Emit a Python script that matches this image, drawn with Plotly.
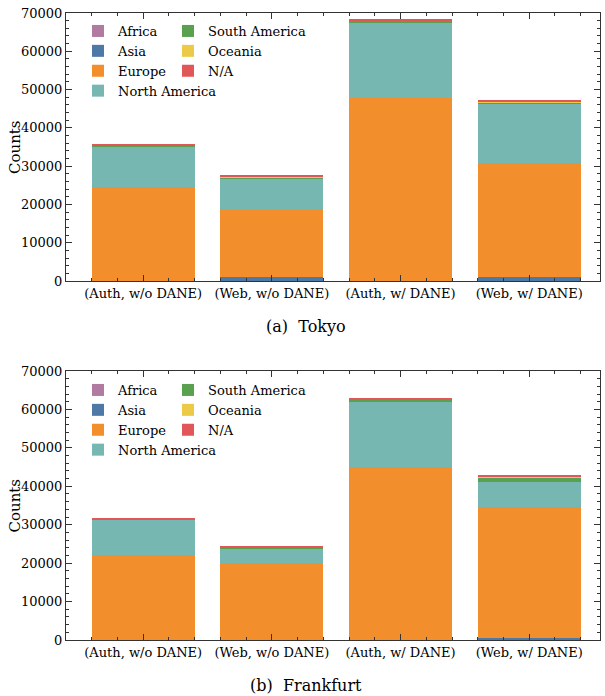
import plotly.graph_objects as go

# Regions stacked from the bottom up, and the four measurement configurations
regions = ["Africa", "Asia", "Europe", "North America", "South America", "Oceania", "N/A"]
colors = ["#b07aa1", "#4e79a7", "#f28e2b", "#76b7b2", "#59a14f", "#edc948", "#e15759"]
configs = ["(Auth, w/o DANE)", "(Web, w/o DANE)", "(Auth, w/ DANE)", "(Web, w/ DANE)"]

# Tokyo vantage point
tokyo_africa = [20, 40, 30, 60]
tokyo_asia = [60, 1100, 80, 1050]
tokyo_europe = [24350, 17700, 47800, 29650]
tokyo_north_america = [10650, 7850, 19650, 15400]
tokyo_south_america = [200, 450, 350, 550]
tokyo_oceania = [20, 50, 40, 200]
tokyo_na = [250, 330, 270, 250]

# Frankfurt vantage point
frankfurt_africa = [20, 20, 30, 40]
frankfurt_asia = [50, 60, 100, 400]
frankfurt_europe = [22050, 19950, 44950, 34050]
frankfurt_north_america = [9120, 3650, 16900, 6700]
frankfurt_south_america = [80, 440, 650, 1100]
frankfurt_oceania = [10, 30, 50, 250]
frankfurt_na = [220, 340, 200, 250]

tokyo = [tokyo_africa, tokyo_asia, tokyo_europe, tokyo_north_america,
         tokyo_south_america, tokyo_oceania, tokyo_na]
frankfurt = [frankfurt_africa, frankfurt_asia, frankfurt_europe, frankfurt_north_america,
             frankfurt_south_america, frankfurt_oceania, frankfurt_na]

FONT = "DejaVu Serif"
W, H = 605, 696
xpos = list(range(len(configs)))

fig = go.Figure()


def add_panel(series, xa, ya, legends):
    for i, (name, color, vals) in enumerate(zip(regions, colors, series)):
        fig.add_trace(go.Bar(
            x=xpos, y=vals, name=name, marker=dict(color=color, line=dict(width=0)),
            width=0.8, xaxis=xa, yaxis=ya,
            legend=legends[0] if i < 4 else legends[1],
        ))


add_panel(tokyo, "x", "y", ("legend", "legend2"))
add_panel(frankfurt, "x2", "y2", ("legend3", "legend4"))

axis_line = "#333333"
common_x = dict(
    range=[-0.6, 3.55], tickvals=xpos, ticktext=configs, ticks="inside", ticklen=6,
    tickcolor=axis_line, showline=True, linecolor=axis_line, linewidth=1, mirror="ticks",
    showgrid=False, zeroline=False, automargin=False,
    tickfont=dict(family=FONT, size=13, color="black"),
    minor=dict(dtick=0.2, tick0=0, ticks="inside", ticklen=3, tickcolor=axis_line),
)
common_y = dict(
    range=[0, 70000], dtick=10000, tickformat="d", ticks="inside", ticklen=6,
    tickcolor=axis_line, showline=True, linecolor=axis_line, linewidth=1, mirror="ticks",
    showgrid=False, zeroline=False, automargin=False,
    tickfont=dict(family=FONT, size=13, color="black"),
    minor=dict(dtick=2000, ticks="inside", ticklen=3, tickcolor=axis_line),
)

xd = [66 / W, 600 / W]
top_dom = [1 - 281 / H, 1 - 13 / H]
bot_dom = [1 - 640 / H, 1 - 371 / H]

legend_style = dict(
    font=dict(family=FONT, size=13, color="black"), bgcolor="rgba(0,0,0,0)",
    xanchor="left", yanchor="top", traceorder="normal", tracegroupgap=0,
)


def label(text, x, y, size, angle=0):
    return dict(text=text, x=x, y=y, xref="paper", yref="paper", showarrow=False,
                xanchor="center", yanchor="middle", textangle=angle,
                font=dict(family=FONT, size=size, color="black"))


fig.update_layout(
    width=W, height=H, margin=dict(l=0, r=0, t=0, b=0),
    paper_bgcolor="white", plot_bgcolor="white",
    barmode="stack", bargap=0,
    font=dict(family=FONT, color="black"),
    xaxis=dict(domain=xd, anchor="y", **common_x),
    yaxis=dict(domain=top_dom, anchor="x", **common_y),
    xaxis2=dict(domain=xd, anchor="y2", **common_x),
    yaxis2=dict(domain=bot_dom, anchor="x2", **common_y),
    legend=dict(x=78 / W, y=1 - 16 / H, **legend_style),
    legend2=dict(x=168 / W, y=1 - 16 / H, **legend_style),
    legend3=dict(x=78 / W, y=1 - 375 / H, **legend_style),
    legend4=dict(x=168 / W, y=1 - 375 / H, **legend_style),
    annotations=[
        label("Counts", 15 / W, sum(top_dom) / 2, 15, -90),
        label("Counts", 15 / W, sum(bot_dom) / 2, 15, -90),
        label("(a)  Tokyo", 306 / W, 1 - 326 / H, 16),
        label("(b)  Frankfurt", 306 / W, 1 - 685 / H, 16),
    ],
)

fig.write_html("out.html")
